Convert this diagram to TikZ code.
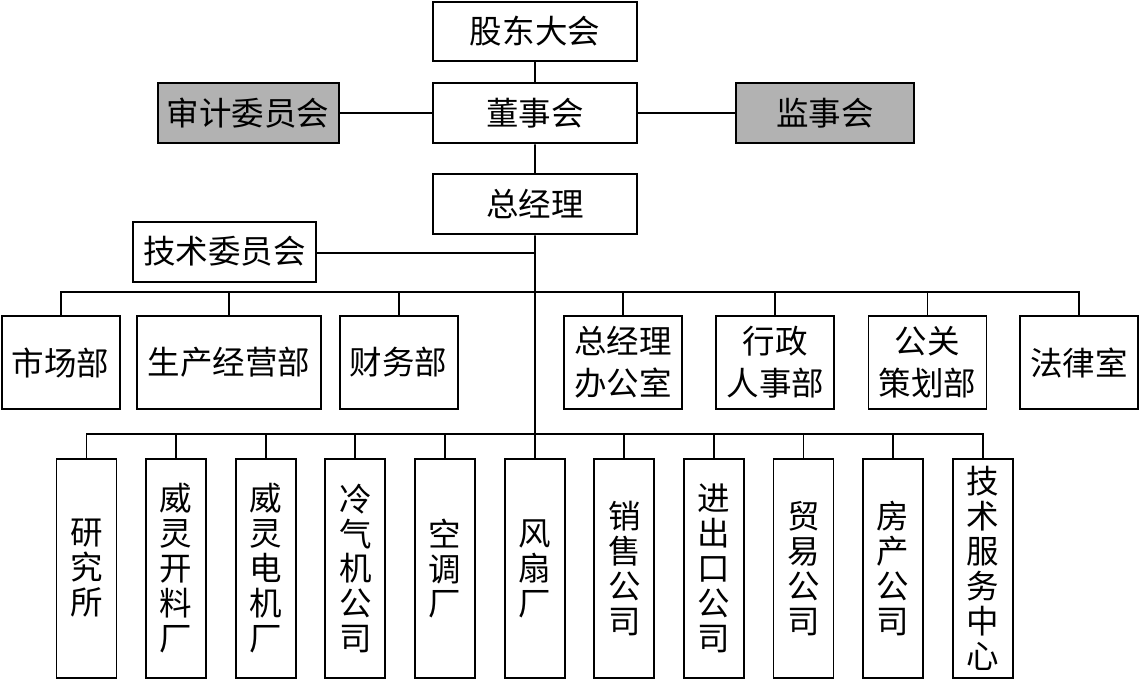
\documentclass[tikz,border=0pt]{standalone}
\usepackage{fontspec}
\setmainfont{Noto Sans CJK SC}
\usepackage{tikz}
\definecolor{boxgray}{RGB}{178,178,178}

\begin{document}
\begin{tikzpicture}[scale=0.2]
		\tikzstyle{every node}+=[inner sep=0pt]
		\tikzstyle{orgbox}=[draw=black, line width=1.1pt, fill=white, font=\fontsize{18.5}{20}\selectfont]
		\tikzstyle{greybox}=[orgbox, fill=boxgray]
		\tikzstyle{deptbox}=[orgbox, minimum width=2.36cm, minimum height=1.86cm, align=center, font=\fontsize{18.5}{23.9}\selectfont]
		\tikzstyle{unitbox}=[orgbox, minimum width=1.2cm, minimum height=4.38cm, align=center, font=\fontsize{18.5}{19.9}\selectfont]
		\tikzstyle{link}=[black, line width=1.1pt]
		\useasboundingbox (0,0) rectangle (114.1,-67.9);
		% top levels
		\node [orgbox, minimum width=4.08cm, minimum height=1.18cm] (gudong) at (53.5,-3.13) {股东大会};
		\node [orgbox, minimum width=4.08cm, minimum height=1.2cm] (dongshi) at (53.5,-11.33) {董事会};
		\node [greybox, minimum width=3.62cm, minimum height=1.2cm] (shenji) at (24.82,-11.33) {审计委员会};
		\node [greybox, minimum width=3.55cm, minimum height=1.2cm] (jianshi) at (82.48,-11.33) {监事会};
		\node [orgbox, minimum width=4.08cm, minimum height=1.2cm] (zjl) at (53.5,-20.43) {总经理};
		\node [orgbox, minimum width=3.66cm, minimum height=1.2cm] (jiwei) at (22.44,-25.17) {技术委员会};
		% departments
		\node [deptbox] (shichang) at (6.07,-36.25) {市场部};
		\node [deptbox, minimum width=3.69cm] (shengchan) at (22.92,-36.25) {生产经营部};
		\node [deptbox] (caiwu) at (39.86,-36.25) {财务部};
		\node [deptbox] (zjban) at (62.3,-36.25) {总经理\\办公室};
		\node [deptbox] (xingzheng) at (77.54,-36.25) {行政\\人事部};
		\node [deptbox] (gongguan) at (92.75,-36.25) {公关\\策划部};
		\node [deptbox] (falv) at (107.9,-36.25) {法律室};
		% subsidiaries
		\node [unitbox] (yanjiu) at (8.65,-56.85) {研\\究\\所};
		\node [unitbox] (kailiao) at (17.61,-56.85) {威\\灵\\开\\料\\厂};
		\node [unitbox] (dianji) at (26.58,-56.85) {威\\灵\\电\\机\\厂};
		\node [unitbox] (lengqi) at (35.54,-56.85) {冷\\气\\机\\公\\司};
		\node [unitbox] (kongtiao) at (44.5,-56.85) {空\\调\\厂};
		\node [unitbox] (fengshan) at (53.5,-56.85) {风\\扇\\厂};
		\node [unitbox] (xiaoshou) at (62.43,-56.85) {销\\售\\公\\司};
		\node [unitbox] (jinchukou) at (71.39,-56.85) {进\\出\\口\\公\\司};
		\node [unitbox] (maoyi) at (80.35,-56.85) {贸\\易\\公\\司};
		\node [unitbox] (fangchan) at (89.32,-56.85) {房\\产\\公\\司};
		\node [unitbox] (jishufw) at (98.28,-56.85) {技\\术\\服\\务\\中\\心};
		% bus levels
		\coordinate (bus1) at (53.5,-29.17);
		\coordinate (bus2) at (53.5,-43.4);
		\path ([yshift=-0.15cm]jiwei.east) coordinate (jw);
		% connectors
		\draw [link] (gudong) -- (dongshi);
		\draw [link] (dongshi) -- (zjl);
		\draw [link] (shenji) -- (dongshi);
		\draw [link] (dongshi) -- (jianshi);
		\draw [link] (zjl) -- (fengshan);
		\draw [link] (jw) -- (jw -| zjl.south);
		\draw [link] (shichang.north) |- (bus1) -| (falv.north);
		\draw [link] (shengchan.north) -- (shengchan.north |- bus1);
		\draw [link] (caiwu.north) -- (caiwu.north |- bus1);
		\draw [link] (zjban.north) -- (zjban.north |- bus1);
		\draw [link] (xingzheng.north) -- (xingzheng.north |- bus1);
		\draw [link] (gongguan.north) -- (gongguan.north |- bus1);
		\draw [link] (yanjiu.north) |- (bus2) -| (jishufw.north);
		\draw [link] (kailiao.north) -- (kailiao.north |- bus2);
		\draw [link] (dianji.north) -- (dianji.north |- bus2);
		\draw [link] (lengqi.north) -- (lengqi.north |- bus2);
		\draw [link] (kongtiao.north) -- (kongtiao.north |- bus2);
		\draw [link] (xiaoshou.north) -- (xiaoshou.north |- bus2);
		\draw [link] (jinchukou.north) -- (jinchukou.north |- bus2);
		\draw [link] (maoyi.north) -- (maoyi.north |- bus2);
		\draw [link] (fangchan.north) -- (fangchan.north |- bus2);
		\end{tikzpicture}
\end{document}
